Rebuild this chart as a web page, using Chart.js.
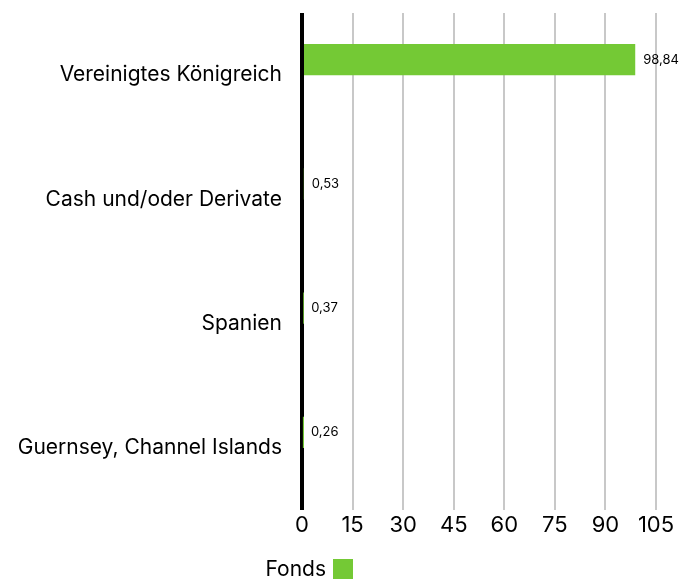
<!DOCTYPE html>
<html>
<head>
<meta charset="utf-8">
<script src="https://cdn.jsdelivr.net/npm/chart.js@4"></script>
<style>
html,body{margin:0;padding:0;background:#fff;}
#wrap{width:680px;height:580px;position:relative;}
</style>
</head>
<body>
<div id="wrap"><canvas id="c" width="680" height="580"></canvas></div>
<script>
const categories = ["Vereinigtes Königreich", "Cash und/oder Derivate", "Spanien", "Guernsey, Channel Islands"];
const fondsValues = [98.84, 0.53, 0.37, 0.26];
const valueLabels = ["98,84", "0,53", "0,37", "0,26"];
const seriesName = "Fonds";
const xMin = 0, xMax = 105, xStep = 15;

const GREEN = '#74c935';
const FONT = 'Inter, "Open Sans", sans-serif';

const valueLabelPlugin = {
  id: 'valueLabels',
  afterDatasetsDraw(chart) {
    const ctx = chart.ctx;
    const meta = chart.getDatasetMeta(0);
    ctx.save();
    ctx.font = '13px ' + FONT;
    ctx.fillStyle = '#000';
    ctx.textAlign = 'left';
    ctx.textBaseline = 'middle';
    meta.data.forEach((bar, i) => {
      ctx.fillText(valueLabels[i], bar.x + 8, bar.y);
    });
    ctx.restore();
  }
};

const legendPlugin = {
  id: 'customLegend',
  afterDraw(chart) {
    const ctx = chart.ctx;
    const left = chart.chartArea.left;
    ctx.save();
    ctx.font = '21px ' + FONT;
    ctx.fillStyle = '#000';
    ctx.textAlign = 'right';
    ctx.textBaseline = 'middle';
    ctx.fillText(seriesName, left + 24, 570);
    ctx.fillStyle = GREEN;
    ctx.fillRect(left + 31, 559, 20, 20);
    ctx.restore();
  }
};

new Chart(document.getElementById('c'), {
  type: 'bar',
  data: {
    labels: categories,
    datasets: [
      { label: seriesName, data: fondsValues, backgroundColor: GREEN, borderWidth: 0 },
      { label: '', data: categories.map(() => null), backgroundColor: 'rgba(0,0,0,0)' }
    ]
  },
  options: {
    indexAxis: 'y',
    responsive: false,
    animation: false,
    devicePixelRatio: 1,
    layout: { padding: { top: 13, right: 24, bottom: 40, left: 0 } },
    datasets: { bar: { categoryPercentage: 0.5, barPercentage: 1 } },
    plugins: {
      legend: { display: false },
      tooltip: { enabled: false }
    },
    scales: {
      x: {
        min: xMin, max: xMax,
        ticks: { stepSize: xStep, color: '#000', font: { family: FONT, size: 22 }, padding: 2 },
        grid: {
          drawTicks: false,
          color: c => (c.tick && c.tick.value === 0) ? '#000' : '#c8c8c8',
          lineWidth: c => (c.tick && c.tick.value === 0) ? 4 : 2
        },
        border: { display: false },
        afterFit: s => { s.height = 30; s.paddingLeft = 0; s.paddingRight = 0; }
      },
      y: {
        ticks: { color: '#000', font: { family: FONT, size: 21 }, padding: 20 },
        grid: { display: false, drawTicks: false },
        border: { display: false },
        afterFit: s => { s.width = 302; s.paddingTop = 0; s.paddingBottom = 0; }
      }
    }
  },
  plugins: [valueLabelPlugin, legendPlugin]
});
</script>
</body>
</html>
